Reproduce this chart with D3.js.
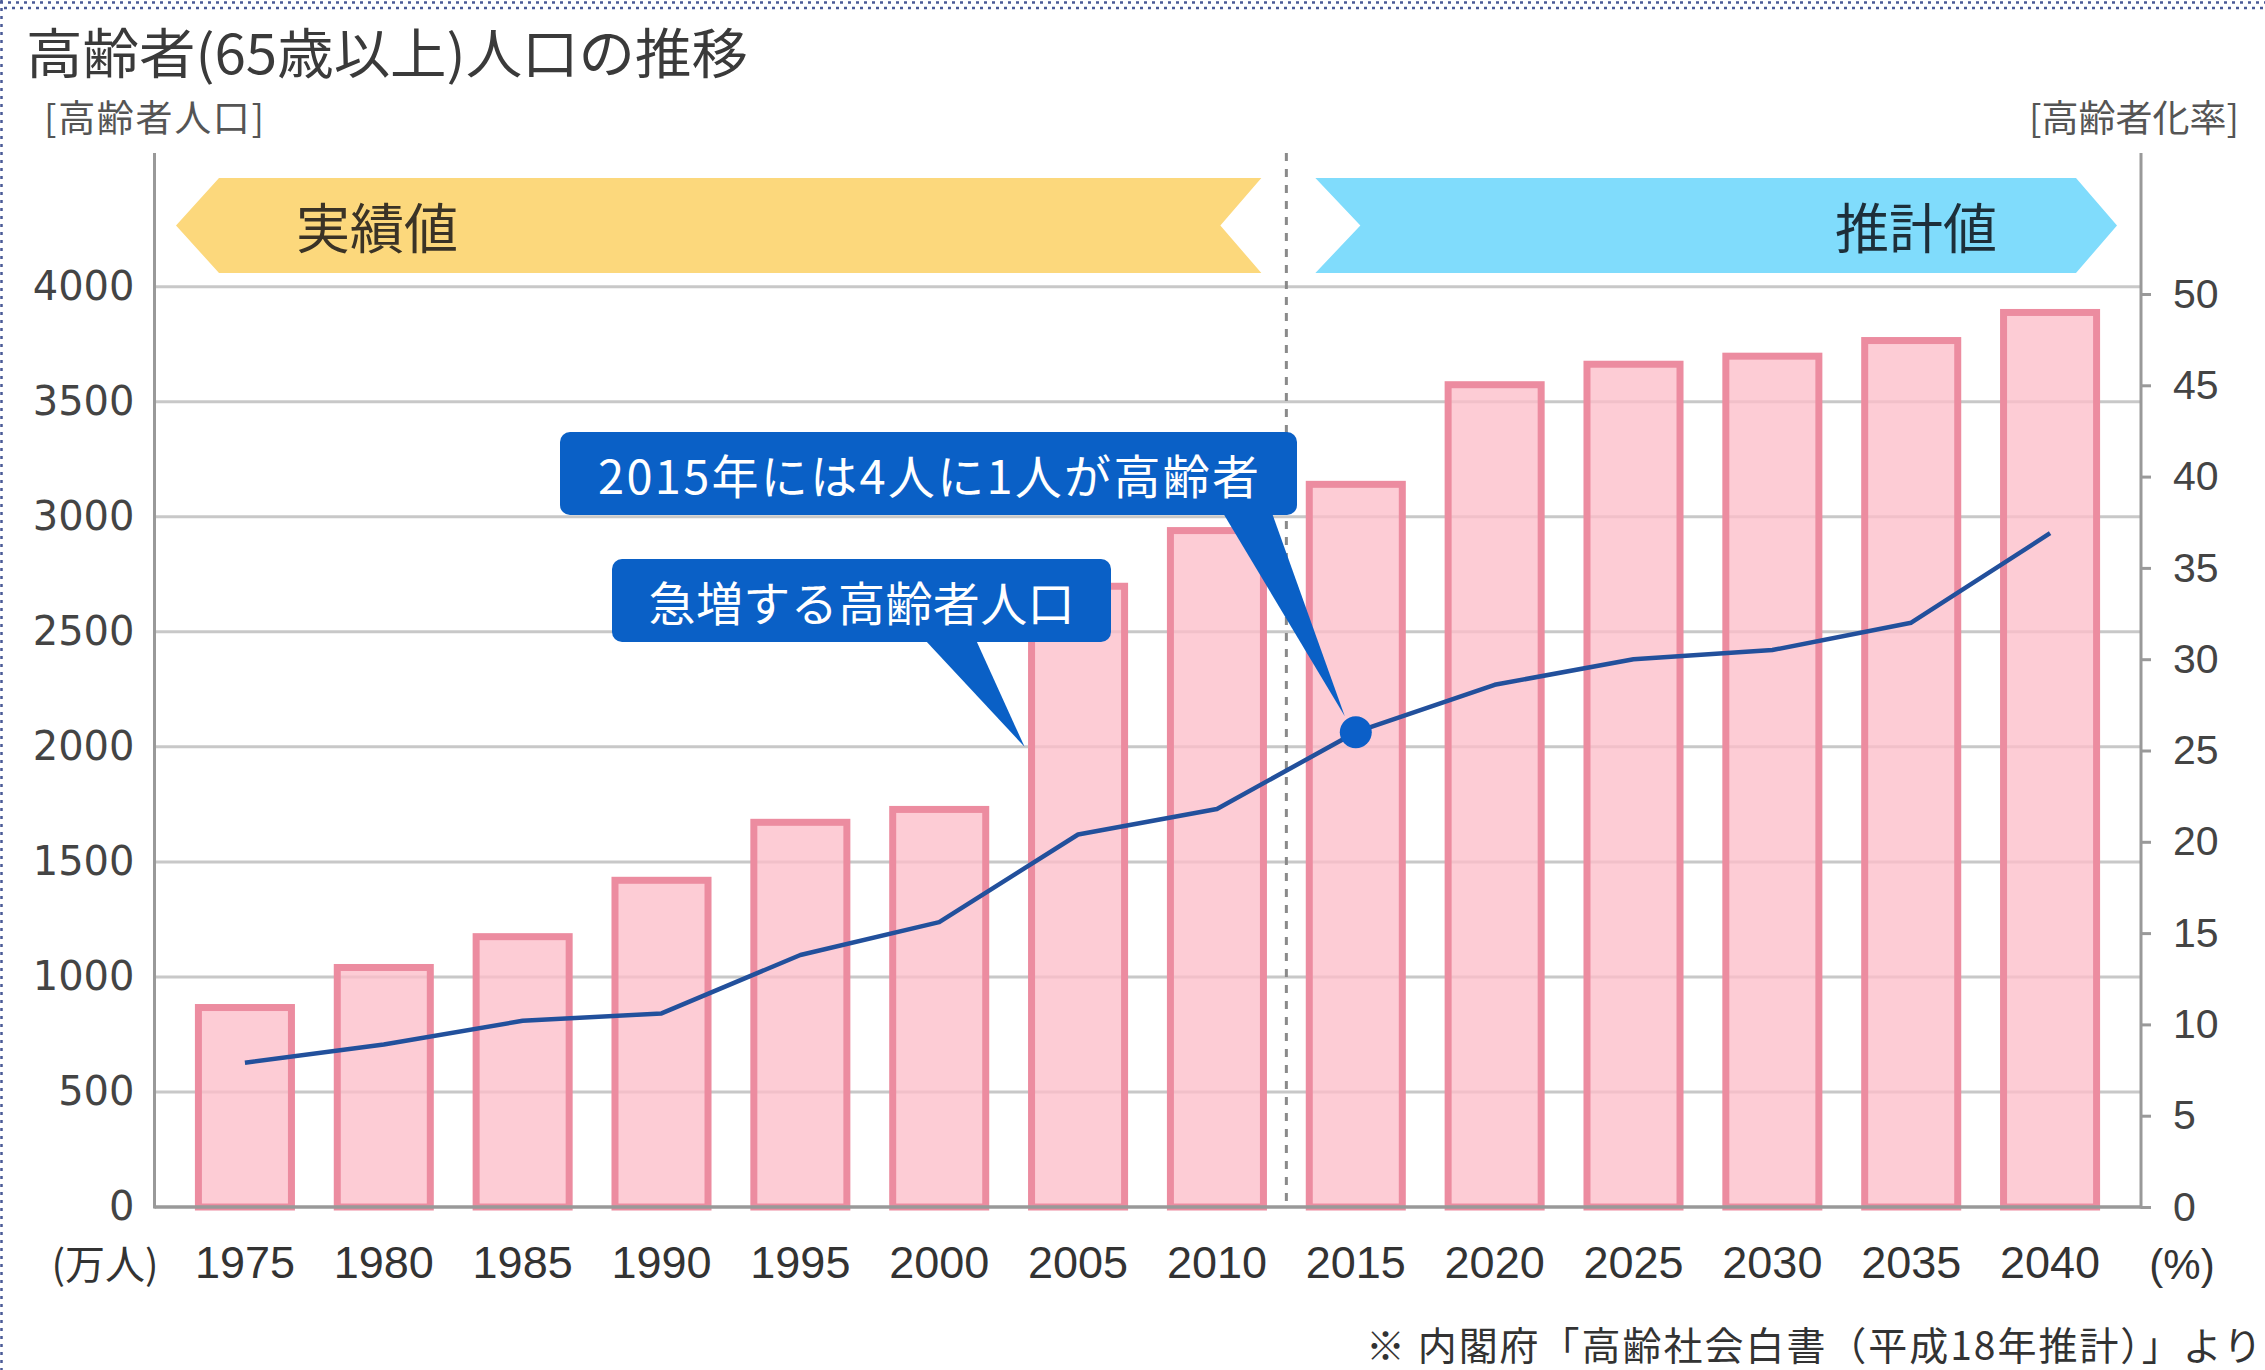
<!DOCTYPE html>
<html lang="ja">
<head>
<meta charset="utf-8">
<script src="https://cdn.jsdelivr.net/npm/d3@7"></script>
<style>
  body { margin: 0; background: #fff; }
  svg { display: block; }
</style>
</head>
<body>
<svg id="chart" width="2265" height="1370"></svg>
<script>
// Data
var years = ['1975', '1980', '1985', '1990', '1995', '2000', '2005',
             '2010', '2015', '2020', '2025', '2030', '2035', '2040'];
// 高齢者人口 (万人)
var population = [867, 1041, 1175, 1420, 1672, 1728, 2698,
                  2940, 3141, 3574, 3663, 3698, 3766, 3888];
// 高齢者化率 (%)
var agingRate = [7.9, 8.9, 10.2, 10.6, 13.8, 15.6, 20.4,
                 21.8, 26.0, 28.6, 30.0, 30.5, 32.0, 36.9];
var leftTicks = [0, 500, 1000, 1500, 2000, 2500, 3000, 3500, 4000];
var rightTicks = [0, 5, 10, 15, 20, 25, 30, 35, 40, 45, 50];

var cjk = '"Noto Sans CJK JP", "Noto Sans", sans-serif';
var svg = d3.select('#chart').attr('font-family', cjk);

// Layout
var axisL = 154.5, axisR = 2141, axisTop = 153, baseY = 1207;

// Scales
var x = d3.scaleBand()
    .domain(years)
    .range([175.5, 2119.5])
    .paddingInner(0.33)
    .paddingOuter(0.165);
var yLeft = d3.scaleLinear().domain([0, 4000]).range([baseY, 286.7]);
var yRight = d3.scaleLinear().domain([0, 50]).range([baseY, 294]);

// page border (dotted)
svg.append('line')
    .attr('x1', 0).attr('x2', 2265).attr('y1', 2.5).attr('y2', 2.5)
    .attr('stroke', '#4a5a96').attr('stroke-width', 2.5)
    .attr('stroke-dasharray', '3 5');
svg.append('line')
    .attr('x1', 4).attr('x2', 2265).attr('y1', 8).attr('y2', 8)
    .attr('stroke', '#4a5a96').attr('stroke-width', 2.5)
    .attr('stroke-dasharray', '3 5');
svg.append('line')
    .attr('x1', 1.5).attr('x2', 1.5).attr('y1', 0).attr('y2', 1370)
    .attr('stroke', '#4a5a96').attr('stroke-width', 2.5)
    .attr('stroke-dasharray', '3 5');

// Titles
svg.append('text')
    .attr('x', 26).attr('y', 50)
    .attr('dominant-baseline', 'central')
    .attr('font-size', 54)
    .attr('textLength', 722)
    .attr('lengthAdjust', 'spacingAndGlyphs')
    .attr('fill', '#3a3a3a')
    .text('高齢者(65歳以上)人口の推移');

svg.append('text')
    .attr('x', 44).attr('y', 116)
    .attr('dominant-baseline', 'central')
    .attr('font-size', 37)
    .attr('textLength', 220)
    .attr('fill', '#555')
    .text('[高齢者人口]');

svg.append('text')
    .attr('x', 2239).attr('y', 116)
    .attr('text-anchor', 'end')
    .attr('dominant-baseline', 'central')
    .attr('font-size', 37)
    .attr('fill', '#555')
    .text('[高齢者化率]');

// Gridlines
svg.append('g').selectAll('line')
    .data(leftTicks.filter(function(d) { return d > 0; }))
    .enter().append('line')
    .attr('x1', axisL).attr('x2', axisR)
    .attr('y1', function(d) { return yLeft(d); })
    .attr('y2', function(d) { return yLeft(d); })
    .attr('stroke', '#c8c8c8')
    .attr('stroke-width', 3);

// divider between 実績値 / 推計値
var divider = x('2010') + x.bandwidth() + (x.step() - x.bandwidth()) / 2;

// Banners
var bannerTop = 178, bannerBot = 273, bannerMid = (bannerTop + bannerBot) / 2;
var yellowPts = [[176, bannerMid], [219, bannerTop], [divider - 25, bannerTop],
                 [divider - 66, bannerMid], [divider - 25, bannerBot], [219, bannerBot]];
var bluePts = [[divider + 29, bannerTop], [2076, bannerTop], [2117, bannerMid],
               [2076, bannerBot], [divider + 29, bannerBot], [divider + 74, bannerMid]];

svg.append('polygon')
    .attr('points', yellowPts.join(' '))
    .attr('fill', '#fcd87c');
svg.append('polygon')
    .attr('points', bluePts.join(' '))
    .attr('fill', '#80dcfc');

svg.append('text')
    .attr('x', 296).attr('y', bannerMid)
    .attr('dominant-baseline', 'central')
    .attr('font-size', 54)
    .attr('fill', '#3a3326')
    .text('実績値');
svg.append('text')
    .attr('x', 1835).attr('y', bannerMid)
    .attr('dominant-baseline', 'central')
    .attr('font-size', 54)
    .attr('fill', '#1d2f3a')
    .text('推計値');

// Bars
svg.append('g').selectAll('rect')
    .data(population)
    .enter().append('rect')
    .attr('x', function(d, i) { return x(years[i]); })
    .attr('y', function(d) { return yLeft(d); })
    .attr('width', x.bandwidth())
    .attr('height', function(d) { return baseY - yLeft(d); })
    .attr('fill', 'rgba(253, 190, 201, 0.78)')
    .attr('stroke', '#ec8ca0')
    .attr('stroke-width', 7);

// dashed divider
svg.append('line')
    .attr('x1', divider).attr('x2', divider)
    .attr('y1', axisTop).attr('y2', baseY)
    .attr('stroke', '#8a8a8a')
    .attr('stroke-width', 3)
    .attr('stroke-dasharray', '8 8');

// Axes lines
svg.append('line')
    .attr('x1', axisL).attr('x2', axisL).attr('y1', axisTop).attr('y2', baseY + 1.5)
    .attr('stroke', '#999').attr('stroke-width', 3);
svg.append('line')
    .attr('x1', axisR).attr('x2', axisR).attr('y1', axisTop).attr('y2', baseY + 1.5)
    .attr('stroke', '#999').attr('stroke-width', 3);
svg.append('line')
    .attr('x1', axisL).attr('x2', axisR).attr('y1', baseY).attr('y2', baseY)
    .attr('stroke', '#999').attr('stroke-width', 3.5);

// Left axis
var leftAxisG = svg.append('g')
    .attr('transform', 'translate(' + [axisL, 0] + ')')
    .call(d3.axisLeft(yLeft).tickValues(leftTicks).tickFormat(d3.format('d'))
        .tickSize(0).tickPadding(20));
leftAxisG.select('.domain').remove();
leftAxisG.selectAll('text')
    .attr('font-family', '"DejaVu Sans", Verdana, sans-serif')
    .attr('font-size', 40)
    .attr('fill', '#444');

// Right axis
var rightAxisG = svg.append('g')
    .attr('transform', 'translate(' + [axisR, 0] + ')')
    .call(d3.axisRight(yRight).tickValues(rightTicks).tickSize(10).tickPadding(22));
rightAxisG.select('.domain').remove();
rightAxisG.selectAll('line').attr('stroke', '#999').attr('stroke-width', 3);
rightAxisG.selectAll('text')
    .attr('font-family', '"Liberation Sans", Arial, sans-serif')
    .attr('font-size', 41)
    .attr('fill', '#444');

// X axis
var xAxisG = svg.append('g')
    .attr('transform', 'translate(' + [0, baseY] + ')')
    .call(d3.axisBottom(x).tickSize(0).tickPadding(0));
xAxisG.select('.domain').remove();
xAxisG.selectAll('text')
    .attr('y', 55)
    .attr('dy', '0.35em')
    .attr('font-family', '"Liberation Sans", Arial, sans-serif')
    .attr('font-size', 45)
    .attr('fill', '#333');

svg.append('text')
    .attr('x', 105).attr('y', 1262)
    .attr('text-anchor', 'middle')
    .attr('dominant-baseline', 'central')
    .attr('font-size', 40)
    .attr('fill', '#333')
    .text('(万人)');
svg.append('text')
    .attr('x', 2182).attr('y', 1264)
    .attr('text-anchor', 'middle')
    .attr('dy', '0.35em')
    .attr('font-family', '"Liberation Sans", Arial, sans-serif')
    .attr('font-size', 42)
    .attr('fill', '#333')
    .text('(%)');

// Aging-rate line
var line = d3.line()
    .x(function(d, i) { return x(years[i]) + x.bandwidth() / 2; })
    .y(function(d) { return yRight(d); });

svg.append('path')
    .datum(agingRate)
    .attr('d', line)
    .attr('fill', 'none')
    .attr('stroke', '#22509c')
    .attr('stroke-width', 4.5)
    .attr('stroke-linejoin', 'round');

// Callouts
var calloutColor = '#0a60c6';
var i2015 = years.indexOf('2015');
var dotX = x('2015') + x.bandwidth() / 2;
var dotY = yRight(agingRate[i2015]);

var callouts = [
    {text: '2015年には4人に1人が高齢者', box: [560, 432, 737, 83], len: 661,
     base: [1223, 1272], tip: [dotX - 11, dotY - 16]},
    {text: '急増する高齢者人口', box: [612, 559, 499, 83], len: 426,
     base: [925, 976], tip: [x('2005') - 7, yLeft(2000)]}
];

callouts.forEach(function(c) {
    var g = svg.append('g');
    var bottom = c.box[1] + c.box[3];
    g.append('polygon')
        .attr('points', [[c.base[0], bottom - 2], [c.base[1], bottom - 2], c.tip].join(' '))
        .attr('fill', calloutColor);
    g.append('rect')
        .attr('x', c.box[0]).attr('y', c.box[1])
        .attr('width', c.box[2]).attr('height', c.box[3])
        .attr('rx', 10).attr('ry', 10)
        .attr('fill', calloutColor);
    g.append('text')
        .attr('x', c.box[0] + c.box[2] / 2)
        .attr('y', c.box[1] + c.box[3] / 2)
        .attr('text-anchor', 'middle')
        .attr('dominant-baseline', 'central')
        .attr('font-size', 47)
        .attr('textLength', c.len)
        .attr('fill', '#fff')
        .text(c.text);
});

// dot on 2015
svg.append('circle')
    .attr('cx', dotX).attr('cy', dotY)
    .attr('r', 16)
    .attr('fill', '#0b5fc8');

// Source note
svg.append('text')
    .attr('x', 2262).attr('y', 1343)
    .attr('text-anchor', 'end')
    .attr('dominant-baseline', 'central')
    .attr('font-size', 39)
    .attr('textLength', 896)
    .attr('fill', '#333')
    .text('※ 内閣府「高齢社会白書（平成18年推計）」より');
</script>
</body>
</html>
